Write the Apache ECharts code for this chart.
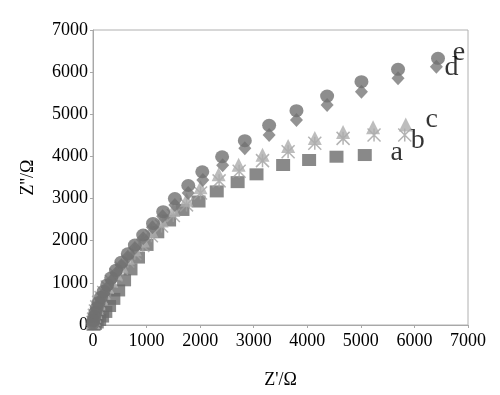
<!DOCTYPE html>
<html>
<head>
<meta charset="utf-8">
<script src="https://cdn.jsdelivr.net/npm/echarts@6/dist/echarts.min.js"></script>
<style>
  html, body { margin: 0; padding: 0; background: #fff; }
  #main { width: 500px; height: 395px; }
</style>
</head>
<body>
<div id="main"></div>
<script>
// [Z', Z''] pairs
var seriesA = [[10,5],[35,25],[70,60],[115,120],[170,200],[230,310],[300,450],[380,620],[470,820],[580,1060],[700,1320],[840,1600],[1000,1900],[1200,2200],[1420,2480],[1670,2730],[1970,2930],[2310,3170],[2700,3390],[3052,3575],[3549,3796],[4034,3915],[4545,3993],[5073,4033]];
var seriesB = [[-20,20],[0,60],[10,140],[25,230],[45,330],[70,430],[105,540],[150,650],[200,770],[265,900],[340,1040],[430,1190],[530,1350],[650,1520],[780,1700],[930,1890],[1090,2120],[1280,2350],[1500,2600],[1746,2850],[2007,3130],[2354,3420],[2728,3650],[3164,3900],[3642,4112],[4140,4311],[4668,4429],[5246,4508],[5819,4508]];
var seriesC = [[0,30],[10,95],[25,175],[45,260],[70,360],[105,470],[150,590],[200,720],[265,860],[340,1010],[430,1180],[530,1360],[650,1550],[780,1750],[930,1960],[1090,2190],[1280,2430],[1500,2680],[1746,2925],[2007,3220],[2345,3530],[2718,3756],[3164,3993],[3642,4200],[4140,4390],[4668,4530],[5228,4643],[5838,4710]];
var seriesD = [[0,35],[10,100],[25,190],[45,280],[70,380],[105,490],[150,610],[200,740],[265,890],[340,1050],[430,1230],[530,1420],[650,1620],[782,1830],[937,2060],[1110,2320],[1300,2580],[1528,2850],[1777,3130],[2050,3440],[2420,3790],[2834,4192],[3288,4508],[3798,4864],[4370,5219],[5011,5535],[5694,5853],[6410,6128]];
var seriesE = [[0,40],[10,110],[25,200],[45,300],[70,410],[105,530],[150,660],[200,800],[265,950],[340,1120],[430,1300],[530,1490],[650,1690],[782,1898],[937,2135],[1120,2410],[1310,2688],[1528,3000],[1778,3310],[2040,3637],[2410,3993],[2834,4373],[3288,4738],[3798,5085],[4370,5433],[5011,5773],[5694,6066],[6440,6327]];
var seriesNames = ['a', 'b', 'c', 'd', 'e'];
var xTicks = [0, 7000, 1000];
var yTicks = [0, 7000, 1000];

var serif = '"Liberation Serif", "Times New Roman", serif';

function withEndLabel(pts, name, offset) {
  return pts.map(function (p, i) {
    if (i < pts.length - 1) return p;
    return {
      value: p,
      label: {
        show: true, formatter: name, position: 'inside', offset: offset,
        fontFamily: serif, fontSize: 28, color: '#000'
      }
    };
  });
}

function plain(v) { return String(v); }

var chart = echarts.init(document.getElementById('main'));
chart.setOption({
  animation: false,
  textStyle: { fontFamily: serif },
  grid: {
    left: 93, right: 32, top: 30, bottom: 70,
    show: true, borderColor: '#b0b0b0', borderWidth: 1
  },
  xAxis: {
    type: 'value', min: xTicks[0], max: xTicks[1], interval: xTicks[2],
    name: "Z'/Ω", nameLocation: 'middle', nameGap: 46,
    nameTextStyle: { fontFamily: serif, fontSize: 18, color: '#000' },
    axisLine: { show: true, lineStyle: { color: '#a8a8a8' } },
    axisTick: { show: true, length: 3, lineStyle: { color: '#a8a8a8' } },
    axisLabel: { fontFamily: serif, fontSize: 18, color: '#000', margin: 7, formatter: plain },
    splitLine: { show: false }
  },
  yAxis: {
    type: 'value', min: yTicks[0], max: yTicks[1], interval: yTicks[2],
    name: "Z''/Ω", nameLocation: 'middle', nameGap: 56, nameRotate: 90,
    nameTextStyle: { fontFamily: serif, fontSize: 18, color: '#000' },
    axisLine: { show: true, lineStyle: { color: '#a8a8a8' } },
    axisTick: { show: true, length: 3, lineStyle: { color: '#a8a8a8' } },
    axisLabel: { fontFamily: serif, fontSize: 18, color: '#000', margin: 5, formatter: plain },
    splitLine: { show: false }
  },
  series: [{
    name: seriesNames[0], type: 'scatter', symbol: 'rect', symbolSize: [14, 12],
    itemStyle: { color: '#6c6c6c' },
    data: withEndLabel(seriesA, 'a', [32, -2])
  }, {
    name: seriesNames[1], type: 'scatter',
    symbol: 'path://M0,0L10,10M10,0L0,10M5,0L5,10', symbolSize: 13,
    itemStyle: { color: 'none', borderColor: '#a0a0a0', borderWidth: 1.5 },
    data: withEndLabel(seriesB, 'b', [13, 6])
  }, {
    name: seriesNames[2], type: 'scatter', symbol: 'triangle', symbolSize: [14, 14],
    symbolOffset: [0, -2],
    itemStyle: { color: '#acacac' },
    data: withEndLabel(seriesC, 'c', [26, -5])
  }, {
    name: seriesNames[3], type: 'scatter', symbol: 'diamond', symbolSize: [13, 14],
    itemStyle: { color: '#787878' },
    data: withEndLabel(seriesD, 'd', [15, 1])
  }, {
    name: seriesNames[4], type: 'scatter', symbol: 'circle', symbolSize: [14, 13],
    itemStyle: { color: '#707070' },
    data: withEndLabel(seriesE, 'e', [21, -6])
  }]
});
</script>
</body>
</html>
